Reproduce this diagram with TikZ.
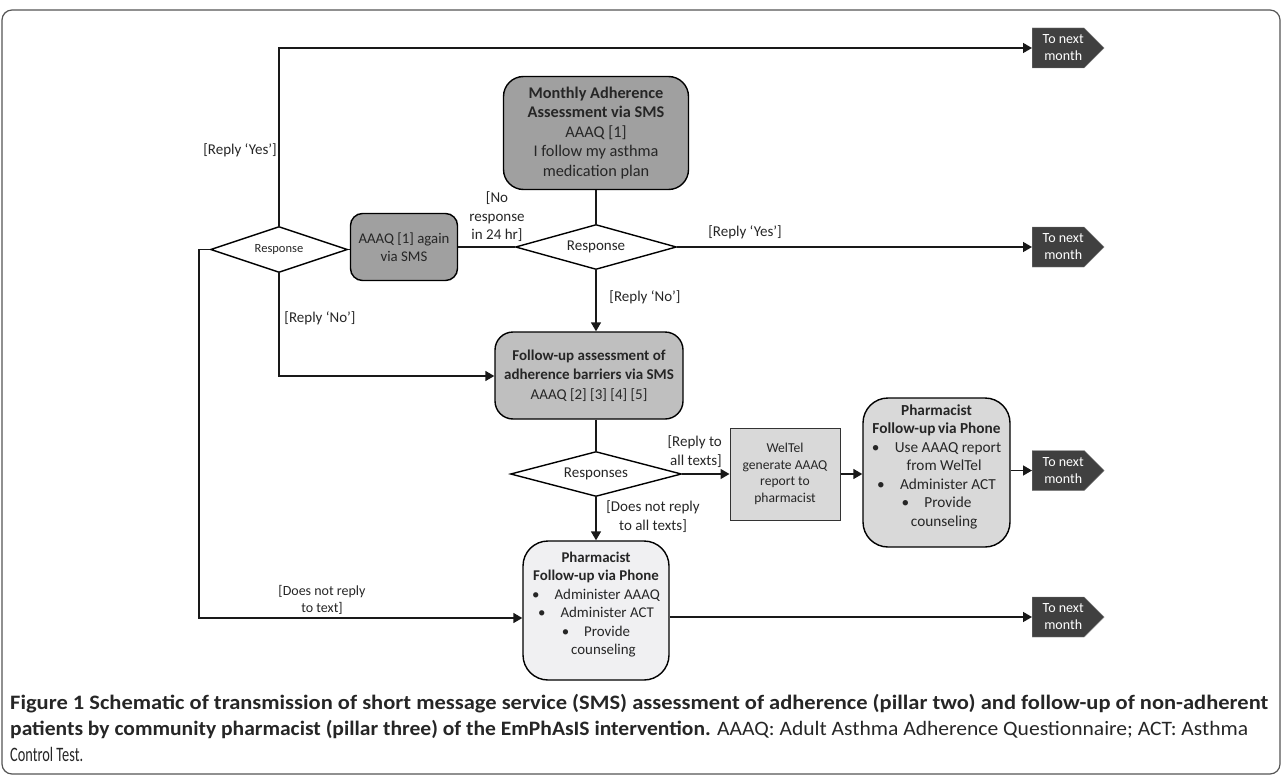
\documentclass[tikz,border=0pt]{standalone}
\usepackage{fontspec}
\setmainfont{Carlito}
\usetikzlibrary{shapes.geometric,shapes.symbols,arrows.meta}
\definecolor{gdark}{HTML}{A0A0A0}
\definecolor{gmid}{HTML}{BFBFBF}
\definecolor{glight}{HTML}{D9D9D9}
\definecolor{gpale}{HTML}{F0F0F2}
\definecolor{tnmfill}{HTML}{404040}
\definecolor{framec}{HTML}{555555}
\begin{document}
\begin{tikzpicture}[x=1pt,y=-1pt,
  box/.style={draw=black, line width=1.4pt, align=center, inner sep=0pt, text=black!85},
  dia/.style={draw=black, line width=1.4pt, diamond, shape aspect=3, inner sep=0pt, fill=white, text=black!85},
  tnm/.style={signal, signal to=east, signal pointer angle=90, fill=tnmfill, draw=gray, line width=0.4pt, text=white, align=center, inner sep=0pt, minimum width=72pt, minimum height=40pt, font=\fontsize{14}{17}\selectfont, anchor=west},
  lab/.style={font=\fontsize{15}{18.5}\selectfont, align=center, inner sep=0pt, text=black!85},
  conn/.style={line width=1.5pt, draw=black!90},
  arr/.style={conn, -{Triangle[length=9pt,width=10pt]}},
  captxt/.style={anchor=west, inner sep=0pt, font=\fontsize{20.5}{24}\selectfont, text=black!85}
]
\useasboundingbox (0,0) rectangle (1282,776);
\draw[draw=framec, line width=1.2pt, rounded corners=10pt] (2,10) rectangle (1280,774);

% nodes
\node[box, fill=gdark, rounded corners=20pt, minimum width=185pt, minimum height=113pt, font=\fontsize{16.3}{19.5}\selectfont] (monthly) at (596,133)
  {\textbf{Monthly Adherence}\\\textbf{Assessment via SMS}\\AAAQ [1]\\I follow my asthma\\medication plan};
\node[box, fill=gdark, rounded corners=12pt, minimum width=107pt, minimum height=67pt, font=\fontsize{14.8}{18.5}\selectfont] (again) at (404,247)
  {AAAQ [1] again\\via SMS};
\node[dia, minimum width=137pt, minimum height=46pt, font=\fontsize{12.5}{14}\selectfont] (d1) at (279,249.5) {Response};
\node[dia, minimum width=161pt, minimum height=45pt, font=\fontsize{15}{18}\selectfont] (d2) at (596,247) {Response};
\node[box, fill=gmid, rounded corners=18pt, minimum width=188pt, minimum height=87pt, font=\fontsize{15}{19.5}\selectfont] (fu) at (589,375.5)
  {\textbf{Follow-up assessment of}\\\textbf{adherence barriers via SMS}\\AAAQ [2] [3] [4] [5]};
\node[dia, minimum width=171pt, minimum height=45pt, font=\fontsize{15}{18}\selectfont] (resp) at (596,474) {Responses};
\node[box, fill=glight, line width=1pt, draw=black!80, minimum width=110pt, minimum height=92pt, font=\fontsize{13.6}{16.7}\selectfont] (weltel) at (785,474)
  {WelTel\\generate AAAQ\\report to\\pharmacist};
\node[box, fill=glight, rounded corners=25pt, minimum width=147pt, minimum height=149pt, font=\fontsize{15.3}{18.5}\selectfont] (ph2) at (936.5,472.5)
  {\textbf{Pharmacist}\\\textbf{Follow-up\,via Phone}\\\textbullet\quad Use AAAQ report\\\quad from WelTel\\\textbullet\quad Administer ACT\\\textbullet\quad Provide\\\quad counseling\\[-4pt]};
\node[box, fill=gpale, rounded corners=25pt, minimum width=146pt, minimum height=139pt, font=\fontsize{14.9}{18.5}\selectfont] (ph1) at (596,610.5)
  {\textbf{Pharmacist}\\\textbf{Follow-up via Phone}\\\textbullet\quad Administer AAAQ\\\textbullet\quad Administer ACT\\\textbullet\quad Provide\\\quad counseling\\[-4pt]};

\node[tnm] (t1) at (1032,48) {\hspace*{10pt}To next\\\hspace*{10pt}month};
\node[tnm] (t2) at (1032,247) {\hspace*{10pt}To next\\\hspace*{10pt}month};
\node[tnm] (t3) at (1032,470.5) {\hspace*{10pt}To next\\\hspace*{10pt}month};
\node[tnm] (t4) at (1032,617) {\hspace*{10pt}To next\\\hspace*{10pt}month};

\coordinate (c1) at (279,48);
\coordinate (c2) at (279,376);
\coordinate (c3) at (199,249.5);
\coordinate (c4) at (199,618);

% connectors
\draw[arr] (d1.north) -- (c1) -- (t1.west);
\draw[conn] (monthly.south) -- (d2.north);
\draw[conn] (again.east) -- (d2.west);
\draw[conn] (d1.east) -- (again.west |- d1.east);
\draw[arr] (d2.east) -- (t2.west);
\draw[arr] (d2.south) -- (d2.south |- fu.north);
\draw[arr] (d1.south) -- (c2) -- (fu.west |- c2);
\draw[arr] (d1.west) -- (c3) -- (c4) -- (ph1.west |- c4);
\draw[conn] (resp.north |- fu.south) -- (resp.north);
\draw[arr] (resp.east) -- (weltel.west);
\draw[arr] (weltel.east) -- (ph2.west |- weltel.east);
\draw[arr] (ph2.east |- t3.west) -- (t3.west);
\draw[arr] (resp.south) -- (ph1.north);
\draw[arr] (ph1.east |- t4.west) -- (t4.west);

% labels
\node[lab] (l1) at (240,150) {[Reply ‘Yes’]};
\node[lab] (l2) at (497,217) {[No\\response\\in 24 hr]};
\node[lab] (l3) at (745,232) {[Reply ‘Yes’]};
\node[lab] (l4) at (645,297) {[Reply ‘No’]};
\node[lab] (l5) at (320,318) {[Reply ‘No’]};
\node[lab, align=right, anchor=east] (l6) at (722,451.5) {[Reply to\\all texts]};
\node[lab] (l7) at (653,516.5) {[Does not reply\\to all texts]};
\node[lab, font=\fontsize{14}{16.5}\selectfont] (l8) at (322,600) {[Does not reply\\to text]};

% caption
\node[captxt] (cap1) at (10,704) {\resizebox{1258pt}{\height}{\bfseries Figure 1 Schematic of transmission of short message service (SMS) assessment of adherence (pillar two) and follow-up of non-adherent}};
\node[captxt] (cap2) at (10,729) {\resizebox{1238pt}{\height}{\textbf{patients by community pharmacist (pillar three) of the EmPhAsIS intervention.} AAAQ: Adult Asthma Adherence Questionnaire; ACT: Asthma}};
\node[captxt] (cap3) at (10,754) {\scalebox{0.7}[1]{Control Test.}};
\end{tikzpicture}
\end{document}
